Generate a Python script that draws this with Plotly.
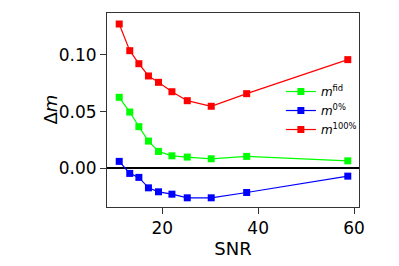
import plotly.graph_objects as go

snr = [11.0, 13.2, 15.1, 17.1, 19.2, 22.0, 25.2, 30.2, 37.6, 58.7]
m_fid = [0.0627, 0.0497, 0.0368, 0.0241, 0.0150, 0.0111, 0.0100, 0.0085, 0.0106, 0.0067]
m_0 = [0.0062, -0.0044, -0.0079, -0.0171, -0.0206, -0.0227, -0.0259, -0.0259, -0.0212, -0.0068]
m_100 = [0.1273, 0.1038, 0.0923, 0.0815, 0.0759, 0.0676, 0.0597, 0.0548, 0.0659, 0.0959]

series = [
    ("<i>m</i><sup>fid</sup>", m_fid, "#00ff00"),
    ("<i>m</i><sup>0%</sup>", m_0, "#0000ff"),
    ("<i>m</i><sup>100%</sup>", m_100, "#ff0000"),
]

fig = go.Figure()
for name, vals, col in series:
    fig.add_trace(go.Scatter(
        x=snr, y=vals, mode="lines+markers", name=name,
        line=dict(color=col, width=1.2),
        marker=dict(symbol="square", size=7, color=col),
    ))

fig.update_layout(
    width=399, height=266,
    margin=dict(l=99, r=48, t=5, b=67),
    paper_bgcolor="white", plot_bgcolor="white",
    font=dict(family="DejaVu Sans", color="black"),
    showlegend=True,
    legend=dict(x=0.69, y=0.67, xanchor="left", yanchor="top",
                bgcolor="rgba(0,0,0,0)", font=dict(size=12),
                itemwidth=30, tracegroupgap=0),
    annotations=[dict(text="Δ<i>m</i>", textangle=-90, xref="paper", yref="paper",
                      x=-0.228, y=0.5, xanchor="center", yanchor="middle",
                      showarrow=False, font=dict(size=18))],
)
fig.update_xaxes(
    range=[8.45, 61.04], tickvals=[20, 40, 60],
    ticks="outside", ticklen=6, tickcolor="#333", tickfont=dict(size=17),
    showline=True, linecolor="#333", linewidth=1, mirror=True,
    showgrid=False, zeroline=False,
    title=dict(text="SNR", font=dict(size=18), standoff=2),
)
fig.update_yaxes(
    range=[-0.034, 0.137], tickvals=[0.0, 0.05, 0.10], ticktext=["0.00", "0.05", "0.10"],
    ticks="outside", ticklen=6, tickcolor="#333", tickfont=dict(size=17),
    showline=True, linecolor="#333", linewidth=1, mirror=True,
    showgrid=False, zeroline=True, zerolinecolor="black", zerolinewidth=1.5,
)

fig.write_html("out.html")
